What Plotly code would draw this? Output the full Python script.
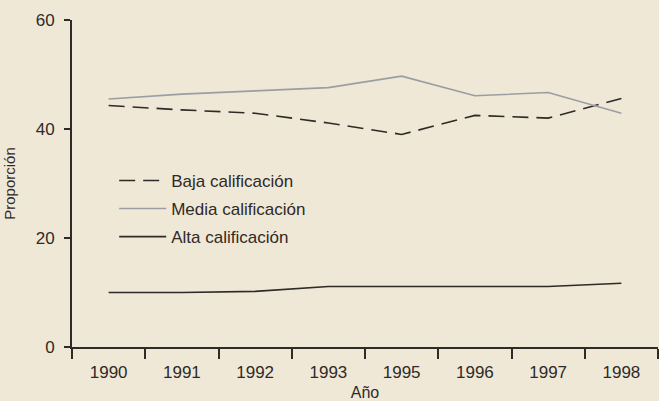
import plotly.graph_objects as go

anios = ["1990", "1991", "1992", "1993", "1995", "1996", "1997", "1998"]
baja = [44.3, 43.5, 42.9, 41.1, 39.0, 42.5, 42.0, 45.6]
media = [45.5, 46.4, 47.0, 47.6, 49.7, 46.1, 46.7, 42.9]
alta = [10.0, 10.0, 10.2, 11.1, 11.1, 11.1, 11.1, 11.7]

fondo = "#f0e8d7"
tinta = "#2e2a27"

fig = go.Figure()
fig.add_trace(go.Scatter(x=anios, y=baja, mode="lines", name="Baja calificación",
                         legendgroup="b",
                         line=dict(color=tinta, width=1.6, dash="16px,8px")))
fig.add_trace(go.Scatter(x=anios, y=media, mode="lines", name="Media calificación",
                         legendgroup="m",
                         line=dict(color="#9a9ea3", width=1.6)))
fig.add_trace(go.Scatter(x=anios, y=alta, mode="lines", name="Alta calificación",
                         legendgroup="a",
                         line=dict(color=tinta, width=1.6)))

fig.update_layout(
    width=659, height=401,
    margin=dict(l=72, r=1, t=20, b=54),
    paper_bgcolor=fondo, plot_bgcolor=fondo,
    font=dict(family="Liberation Sans, Arial, sans-serif", size=17, color="#2e2a27"),
    legend=dict(x=0.072, y=0.563, xanchor="left", yanchor="top", bgcolor="rgba(0,0,0,0)",
                font=dict(size=17), itemwidth=47, tracegroupgap=3),
    showlegend=True,
)
fig.update_xaxes(type="category", range=[-0.5, 7.5], showgrid=False, zeroline=False,
                 automargin=False,
                 showline=True, linecolor=tinta, linewidth=2,
                 ticks="outside", tickson="boundaries", ticklen=10, tickwidth=2,
                 tickcolor=tinta, ticklabelstandoff=9,
                 title=dict(text="Año", standoff=5, font=dict(size=16)))
fig.update_yaxes(range=[0, 60], tickvals=[0, 20, 40, 60], showgrid=False, zeroline=False,
                 automargin=False,
                 showline=True, linecolor=tinta, linewidth=2,
                 ticks="outside", ticklen=6, tickwidth=2, tickcolor=tinta,
                 ticklabelstandoff=6,
                 title=dict(text="Proporción", standoff=16, font=dict(size=15)))

fig.write_html("out.html", config={"displayModeBar": False},
               post_script="document.body.style.margin='0';")
